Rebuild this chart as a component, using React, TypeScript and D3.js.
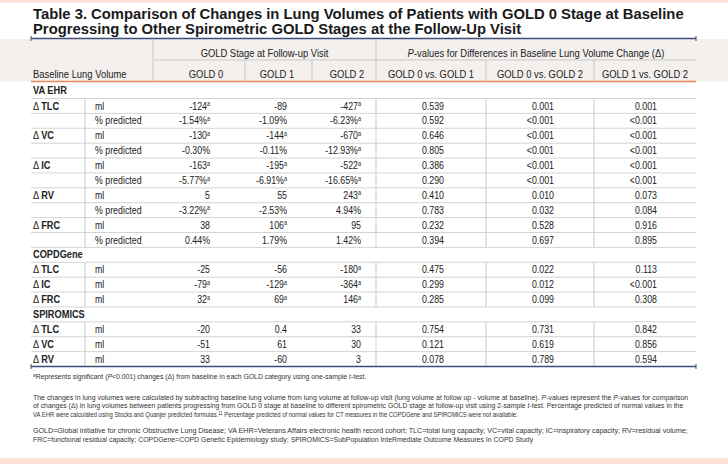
import React, { useLayoutEffect, useRef, useState } from "react";
import * as d3 from "d3";

// ---------- data ----------
const titleLines = [
  "Table 3. Comparison of Changes in Lung Volumes of Patients with GOLD 0 Stage at Baseline",
  "Progressing to Other Spirometric GOLD Stages at the Follow-Up Visit",
];
const goldHeaders = ["GOLD 0", "GOLD 1", "GOLD 2"];
const pHeaders = ["GOLD 0 vs. GOLD 1", "GOLD 0 vs. GOLD 2", "GOLD 1 vs. GOLD 2"];
const sectionNames = ["VA EHR", "COPDGene", "SPIROMICS"];
const rowSection = [0, 0, 0, 0, 0, 0, 0, 0, 0, 0, 1, 1, 1, 2, 2, 2];
const measures = ["TLC", "", "VC", "", "IC", "", "RV", "", "FRC", "", "TLC", "IC", "FRC", "TLC", "VC", "RV"];
const units = ["ml", "% predicted", "ml", "% predicted", "ml", "% predicted", "ml", "% predicted", "ml", "% predicted", "ml", "ml", "ml", "ml", "ml", "ml"];
// "*" marks superscript a (significant change)
const gold0 = ["-124*", "-1.54%*", "-130*", "-0.30%", "-163*", "-5.77%*", "5", "-3.22%*", "38", "0.44%", "-25", "-79*", "32*", "-20", "-51", "33"];
const gold1 = ["-89", "-1.09%", "-144*", "-0.11%", "-195*", "-6.91%*", "55", "-2.53%", "106*", "1.79%", "-56", "-129*", "69*", "0.4", "61", "-60"];
const gold2 = ["-427*", "-6.23%*", "-670*", "-12.93%*", "-522*", "-16.65%*", "243*", "4.94%", "95", "1.42%", "-180*", "-364*", "146*", "33", "30", "3"];
const p01 = ["0.539", "0.592", "0.646", "0.805", "0.386", "0.290", "0.410", "0.783", "0.232", "0.394", "0.475", "0.299", "0.285", "0.754", "0.121", "0.078"];
const p02 = ["0.001", "<0.001", "<0.001", "<0.001", "<0.001", "<0.001", "0.010", "0.032", "0.528", "0.697", "0.022", "0.012", "0.099", "0.731", "0.619", "0.789"];
const p12 = ["0.001", "<0.001", "<0.001", "<0.001", "<0.001", "<0.001", "0.073", "0.084", "0.916", "0.895", "0.113", "<0.001", "0.308", "0.842", "0.856", "0.594"];

// ---------- layout ----------
const W = 728, H = 464;
const X0 = 31, XEND = 696;
const X_LABEL_END = 85, X_UNIT_END = 153;
const goldBounds = [153, 245, 312, 376];
const goldHeaderX = [206, 277, 347];
const pBounds = [376, 486, 594, 696];
const goldRight = [210, 287, 361];
const pRight = [444, 554, 657];
const HEADER_TOP = 39, HEADER_MID = 60, HEADER_BOT = 81.5;
const FIRST_ROW_TOP = 98.5, TABLE_BOT = 366.5;
const NARROW = 0.84;
const FONT = "'Liberation Sans', Arial, Helvetica, sans-serif";
const TXT = "#222";

type Row = { kind: "section"; s: number } | { kind: "data"; i: number };

function buildRows(): Row[] {
  const rows: Row[] = [];
  rowSection.forEach((s, i) => {
    if (i > 0 && s !== rowSection[i - 1]) rows.push({ kind: "section", s });
    rows.push({ kind: "data", i });
  });
  return rows;
}

function NText(props: { x: number; y: number; anchor?: string; size?: number; bold?: boolean; children: React.ReactNode; sx?: number }) {
  const { x, y, anchor = "start", size = 10.5, bold, children, sx = NARROW } = props;
  return (
    <text
      transform={`translate(${x},${y}) scale(${sx},1)`}
      textAnchor={anchor as any}
      fontSize={size}
      fontWeight={bold ? "bold" : "normal"}
      fontFamily={FONT}
      fill={TXT}
    >
      {children}
    </text>
  );
}

// Footnote line stretched horizontally to a target width (measured, then scaled)
function FitText(props: { x: number; y: number; width: number; size?: number; children: React.ReactNode }) {
  const { x, y, width, size = 7, children } = props;
  const ref = useRef<SVGTextElement>(null);
  const [sx, setSx] = useState(1);
  useLayoutEffect(() => {
    if (ref.current) {
      const w = ref.current.getComputedTextLength();
      if (w > 0) setSx(width / w);
    }
  }, [width]);
  return (
    <text ref={ref} transform={`translate(${x},${y}) scale(${sx},1)`} fontSize={size} fontFamily={FONT} fill="#333">
      {children}
    </text>
  );
}

function Val({ v }: { v: string }) {
  const sig = v.endsWith("*");
  const t = sig ? v.slice(0, -1) : v;
  return (
    <>
      {t}
      {sig && (
        <tspan fontSize={6.5} dy={-3.5}>
          a
        </tspan>
      )}
    </>
  );
}

export default function App() {
  const rows = buildRows();
  const y = d3.scaleLinear().domain([0, rows.length]).range([FIRST_ROW_TOP, TABLE_BOT]);
  const rowH = y(1) - y(0);
  const goldCols = [gold0, gold1, gold2];
  const pCols = [p01, p02, p12];
  const rule = "#d4d4d4";
  const vline = "#c9c9c9";
  const navy = "#3d4c7a";

  return (
    <svg width={W} height={H} style={{ position: "absolute", left: 0, top: 0, display: "block", background: "#fff" }}>
      {/* peach bands */}
      <rect x={0} y={0} width={W} height={2.5} fill="#fbe2d4" />
      <rect x={0} y={458} width={W} height={6} fill="#fbe2d4" />

      {/* title */}
      {titleLines.map((t, i) => (
        <text key={i} x={33} y={18.5 + i * 15} fontSize={14.8} fontWeight="bold" fontFamily={FONT} fill="#1a1a1a">
          {t}
        </text>
      ))}

      {/* header background */}
      <rect x={0} y={HEADER_TOP} width={W} height={HEADER_BOT - HEADER_TOP} fill="#f3f0ee" />

      {/* top navy rule */}
      <line x1={X0} x2={XEND} y1={38.5} y2={38.5} stroke={navy} strokeWidth={1.5} />
      <line x1={X0} x2={X0} y1={36} y2={41} stroke={navy} strokeWidth={1} />
      <line x1={XEND} x2={XEND} y1={36} y2={41} stroke={navy} strokeWidth={1} />

      {/* header lines */}
      <line x1={X_UNIT_END} x2={XEND} y1={HEADER_MID} y2={HEADER_MID} stroke={vline} strokeWidth={1} />
      {[X_UNIT_END, pBounds[0]].map((x, i) => (
        <line key={"hv" + i} x1={x} x2={x} y1={HEADER_TOP} y2={HEADER_BOT} stroke={vline} />
      ))}
      {[goldBounds[1], goldBounds[2], pBounds[1], pBounds[2]].map((x, i) => (
        <line key={"hv2" + i} x1={x} x2={x} y1={HEADER_MID} y2={HEADER_BOT} stroke={vline} />
      ))}

      {/* header text */}
      <NText x={(goldBounds[0] + goldBounds[3]) / 2} y={57} anchor="middle" size={11.2}>
        GOLD Stage at Follow-up Visit
      </NText>
      <NText x={(pBounds[0] + pBounds[3]) / 2} y={57} anchor="middle" size={11.2}>
        <tspan fontStyle="italic">P</tspan>-values for Differences in Baseline Lung Volume Change (Δ)
      </NText>
      <NText x={33} y={77.5} size={11.2}>
        Baseline Lung Volume
      </NText>
      {goldHeaders.map((h, j) => (
        <NText key={h} x={goldHeaderX[j]} y={77.5} anchor="middle" size={11.2}>
          {h}
        </NText>
      ))}
      {pHeaders.map((h, j) => (
        <NText key={h} x={(pBounds[j] + pBounds[j + 1]) / 2} y={77.5} anchor="middle" size={11.2}>
          {h}
        </NText>
      ))}

      {/* orange rule */}
      <line x1={X0} x2={XEND} y1={81.5} y2={81.5} stroke="#f0875a" strokeWidth={1.6} />

      {/* VA EHR section row */}
      <NText x={33} y={94} bold size={11}>
        {sectionNames[0]}
      </NText>

      {/* body rows */}
      {rows.map((r, k) => {
        const top = y(k);
        const base = top + rowH / 2 + 3.6;
        return (
          <g key={k}>
            <line x1={X0} x2={XEND} y1={top} y2={top} stroke={rule} strokeWidth={1} />
            {r.kind === "section" ? (
              <NText x={33} y={base} bold size={11}>
                {sectionNames[r.s]}
              </NText>
            ) : (
              <>
                {[X_LABEL_END, pBounds[0], pBounds[1], pBounds[2]].map((x, q) => (
                  <line key={q} x1={x} x2={x} y1={top} y2={top + rowH} stroke={vline} />
                ))}
                {measures[r.i] && (
                  <NText x={33} y={base} size={11}>
                    <tspan>Δ </tspan>
                    <tspan fontWeight="bold">{measures[r.i]}</tspan>
                  </NText>
                )}
                <NText x={95} y={base}>
                  {units[r.i]}
                </NText>
                {goldCols.map((col, j) => (
                  <NText key={"g" + j} x={goldRight[j]} y={base} anchor="end">
                    <Val v={col[r.i]} />
                  </NText>
                ))}
                {pCols.map((col, j) => (
                  <NText key={"p" + j} x={pRight[j]} y={base} anchor="end">
                    {col[r.i]}
                  </NText>
                ))}
              </>
            )}
          </g>
        );
      })}

      {/* bottom navy rule */}
      <line x1={X0} x2={XEND} y1={TABLE_BOT} y2={TABLE_BOT} stroke={navy} strokeWidth={1.5} />
      <line x1={X0} x2={X0} y1={364} y2={369} stroke={navy} strokeWidth={1} />
      <line x1={XEND} x2={XEND} y1={364} y2={369} stroke={navy} strokeWidth={1} />

      {/* footnotes */}
      <FitText x={33} y={379} width={334}>
        <tspan fontSize={5} dy={-2.5}>a</tspan>
        <tspan dy={2.5}>Represents significant (</tspan>
        <tspan fontStyle="italic">P</tspan>
        <tspan>{"<0.001) changes (Δ) from baseline in each GOLD category using one-sample "}</tspan>
        <tspan fontStyle="italic">t</tspan>
        <tspan>-test.</tspan>
      </FitText>
      <FitText x={33} y={399.5} width={656}>
        {"The changes in lung volumes were calculated by subtracting baseline lung volume from lung volume at follow-up visit (lung volume at follow up - volume at baseline). "}
        <tspan fontStyle="italic">P</tspan>
        {"-values represent the "}
        <tspan fontStyle="italic">P</tspan>
        {"-values for comparison"}
      </FitText>
      <FitText x={33} y={408.3} width={651}>
        {"of changes (Δ) in lung volumes between patients progressing from GOLD 0 stage at baseline to different spirometric GOLD stage at follow-up visit using 2-sample "}
        <tspan fontStyle="italic">t</tspan>
        {"-test. Percentage predicted of normal values in the"}
      </FitText>
      <FitText x={33} y={417} width={486}>
        {"VA EHR were calculated using Stocks and Quanjer predicted formulas."}
        <tspan fontSize={5} dy={-2.5}>11</tspan>
        <tspan dy={2.5}>{" Percentage predicted of normal values for CT measures in the COPDGene and SPIROMICS were not available."}</tspan>
      </FitText>
      <FitText x={33} y={433} width={656}>
        GOLD=Global initiative for chronic Obstructive Lung Disease; VA EHR=Veterans Affairs electronic health record cohort; TLC=total lung capacity; VC=vital capacity; IC=inspiratory capacity; RV=residual volume;
      </FitText>
      <FitText x={33} y={441.8} width={501}>
        FRC=functional residual capacity; COPDGene=COPD Genetic Epidemiology study; SPIROMICS=SubPopulation InteRmediate Outcome Measures In COPD Study
      </FitText>
    </svg>
  );
}
